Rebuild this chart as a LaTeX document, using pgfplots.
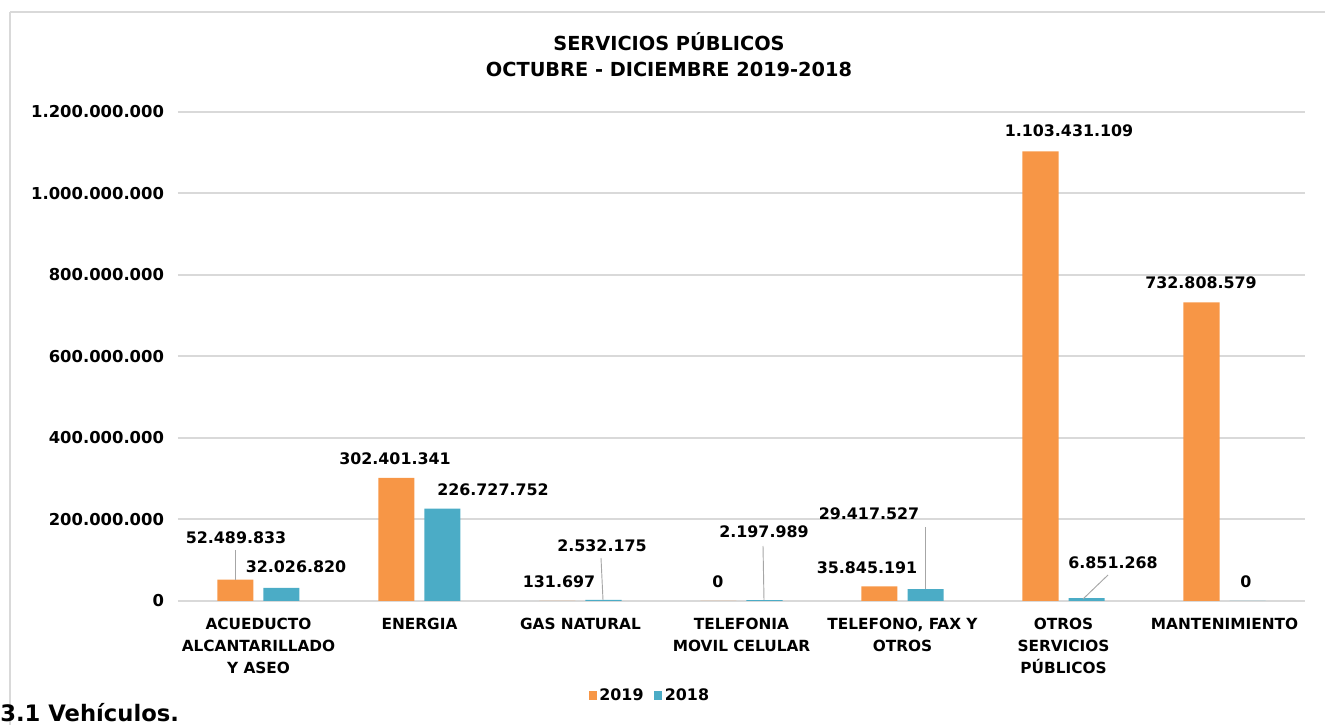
\documentclass[border=0pt]{standalone}
\usepackage{pgfplots}
\pgfplotsset{compat=1.18}
\usepackage{pgfplotstable}
\usepackage{fontspec}
\setmainfont{DejaVu Sans}
\definecolor{c19}{HTML}{F79646}
\definecolor{c18}{HTML}{4BACC6}
\definecolor{gridc}{HTML}{D9D9D9}
\definecolor{leadc}{HTML}{A6A6A6}
\newcommand\lbl{\fontsize{11.9}{14}\selectfont\bfseries}

\pgfplotstableread{
x v2019 v2018
0 52489833 32026820
1 302401341 226727752
2 131697 2532175
3 0 2197989
4 35845191 29417527
5 1103431109 6851268
6 732808579 0
}\datos

\begin{document}
\begin{tikzpicture}
\useasboundingbox (0pt,0pt) rectangle (993.75pt,543.75pt);
% pixel helper: (px, 725-py) scaled 0.75pt
\begin{scope}[x=0.75pt,y=0.75pt]
\draw[gridc, line width=1.5pt] (10,725-12) -- (1325,725-12);
\draw[gridc, line width=1.5pt] (10,725-12) -- (10,0);
\end{scope}
\begin{axis}[
  at={(133.5pt,93pt)}, anchor=south west,
  scale only axis, width=845.25pt, height=366.75pt,
  xmin=-0.5, xmax=6.5, ymin=0, ymax=1200000000,
  ybar=7.5pt, bar width=27pt,
  axis line style={draw=none},
  major tick length=0pt,
  scaled y ticks=false,
  ymajorgrids, grid style={gridc, line width=1.5pt},
  ytick={0,200000000,400000000,600000000,800000000,1000000000,1200000000},
  yticklabels={0,200.000.000,400.000.000,600.000.000,800.000.000,1.000.000.000,1.200.000.000},
  yticklabel style={font=\fontsize{12.3}{14}\selectfont\bfseries, xshift=-7pt},
  xtick=data,
  xticklabels={{ACUEDUCTO\\ALCANTARILLADO\\Y ASEO},ENERGIA,GAS NATURAL,{TELEFONIA\\MOVIL CELULAR},{TELEFONO, FAX Y\\OTROS},{OTROS\\SERVICIOS\\PÚBLICOS},MANTENIMIENTO},
  xticklabel style={font=\fontsize{11.5}{16.5}\selectfont\bfseries, align=center, yshift=-9pt},
  /pgf/number format/assume math mode=true,
  legend style={at={(0.419,-0.194)}, anchor=center, draw=none, fill=none,
    legend columns=2, font=\lbl,
    /tikz/every even column/.append style={column sep=6pt}},
  legend image code/.code={\fill[#1] (0pt,-3.3pt) rectangle (6pt,3.3pt);},
]
\addplot[fill=c19, draw=none] table[x=x, y=v2019] {\datos};
\addplot[fill=c18, draw=none] table[x=x, y=v2018] {\datos};
\legend{2019,2018}
\end{axis}
\begin{scope}[x=0.75pt,y=0.75pt]
% title
\node[font=\fontsize{14.5}{17}\selectfont\bfseries] at (669,725-42) {SERVICIOS PÚBLICOS};
\node[font=\fontsize{14.5}{17}\selectfont\bfseries] at (669,725-69) {OCTUBRE - DICIEMBRE 2019-2018};
% data labels
\begin{scope}[every node/.style={font=\lbl}]
\node at (236,725-538) {52.489.833};
\node at (296,725-567) {32.026.820};
\node at (395,725-459) {302.401.341};
\node at (493,725-490) {226.727.752};
\node at (559,725-582) {131.697};
\node at (602,725-546) {2.532.175};
\node at (718,725-582) {0};
\node at (764,725-532) {2.197.989};
\node at (867,725-568) {35.845.191};
\node at (869,725-514) {29.417.527};
\node at (1113,725-563) {6.851.268};
\node at (1069,725-131) {1.103.431.109};
\node at (1201,725-283) {732.808.579};
\node at (1246,725-582) {0};
\end{scope}
% leader lines
\begin{scope}[leadc, line width=0.7pt]
\draw (235,725-550) -- (235,725-580);
\draw (601,725-558) -- (603,725-600);
\draw (763,725-546) -- (764,725-600);
\draw (925,725-527) -- (925,725-589);
\draw (1108,725-575) -- (1083,725-599);
\end{scope}
\node[anchor=base west, inner sep=0pt, font=\fontsize{17}{19}\selectfont\bfseries] at (0,725-722) {3.1 Vehículos.};
\end{scope}
\end{tikzpicture}
\end{document}
